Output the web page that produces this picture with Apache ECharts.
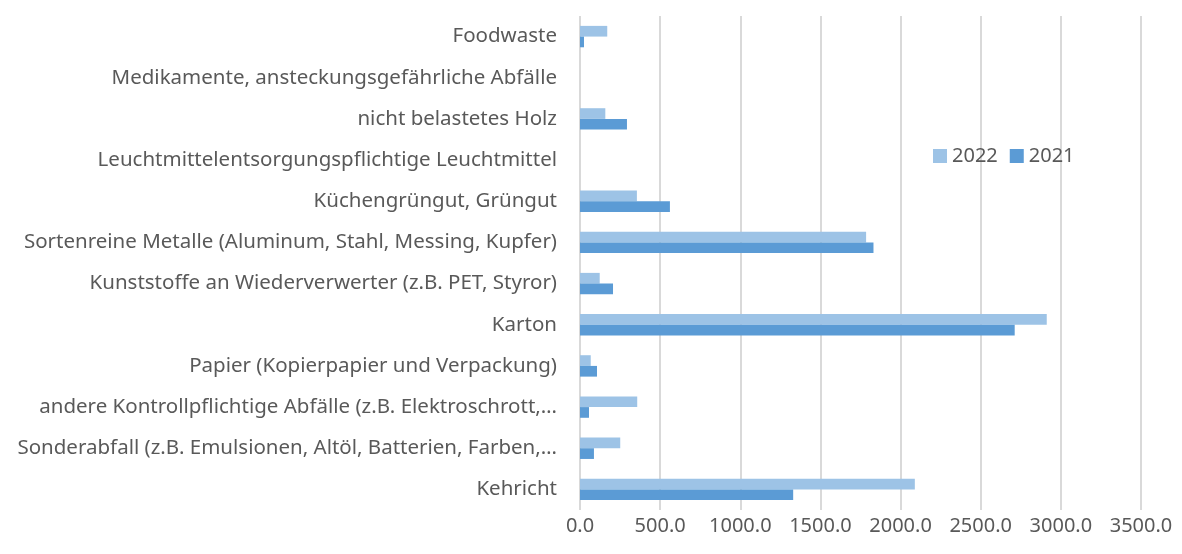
<!DOCTYPE html>
<html>
<head>
<meta charset="utf-8">
<script src="https://cdn.jsdelivr.net/npm/echarts@6/dist/echarts.min.js"></script>
<style>
  html, body { margin: 0; padding: 0; background: #fff; }
  #chart { width: 1182px; height: 554px; }
</style>
</head>
<body>
<div id="chart"></div>
<script>
// categories, bottom to top
const categories = [
  "Kehricht",
  "Sonderabfall (z.B. Emulsionen, Altöl, Batterien, Farben,…",
  "andere Kontrollpflichtige Abfälle (z.B. Elektroschrott,…",
  "Papier (Kopierpapier und Verpackung)",
  "Karton",
  "Kunststoffe an Wiederverwerter (z.B. PET, Styror)",
  "Sortenreine Metalle (Aluminum, Stahl, Messing, Kupfer)",
  "Küchengrüngut, Grüngut",
  "Leuchtmittelentsorgungspflichtige Leuchtmittel",
  "nicht belastetes Holz",
  "Medikamente, ansteckungsgefährliche Abfälle",
  "Foodwaste"
];
const values2022 = [2089, 251, 357, 67, 2912, 123, 1785, 355, 0, 158, 0, 170];
const values2021 = [1330, 87, 56, 106, 2712, 206, 1831, 561, 0, 293, 0, 25];
const xTicks = [0, 500, 1000, 1500, 2000, 2500, 3000, 3500];

const chart = echarts.init(document.getElementById("chart"));
const font = "'Noto Sans', sans-serif";

chart.setOption({
  animation: false,
  textStyle: { fontFamily: font },
  legend: {
    data: ["2022", "2021"],
    left: 928,
    top: 141,
    itemWidth: 14,
    itemHeight: 14,
    itemGap: 12,
    icon: "rect",
    textStyle: { fontSize: 20, color: "#595959", fontFamily: font }
  },
  grid: { left: 580, right: 41, top: 16, bottom: 44, containLabel: false },
  xAxis: {
    type: "value",
    min: xTicks[0],
    max: xTicks[xTicks.length - 1],
    interval: 500,
    axisLine: { show: false },
    axisTick: { show: false },
    splitLine: { lineStyle: { color: "#d9d9d9", width: 2 } },
    axisLabel: {
      fontSize: 20,
      color: "#595959",
      margin: 6,
      formatter: (v) => v.toFixed(1)
    }
  },
  yAxis: {
    type: "category",
    data: categories,
    axisLine: { show: false },
    axisTick: { show: false },
    axisLabel: { fontSize: 20.5, color: "#595959", margin: 23 }
  },
  series: [
    {
      name: "2022",
      type: "bar",
      data: values2022,
      barGap: "0%",
      barCategoryGap: "48%",
      itemStyle: { color: "#9dc3e6" }
    },
    {
      name: "2021",
      type: "bar",
      data: values2021,
      itemStyle: { color: "#5b9bd5" }
    }
  ]
});
</script>
</body>
</html>
